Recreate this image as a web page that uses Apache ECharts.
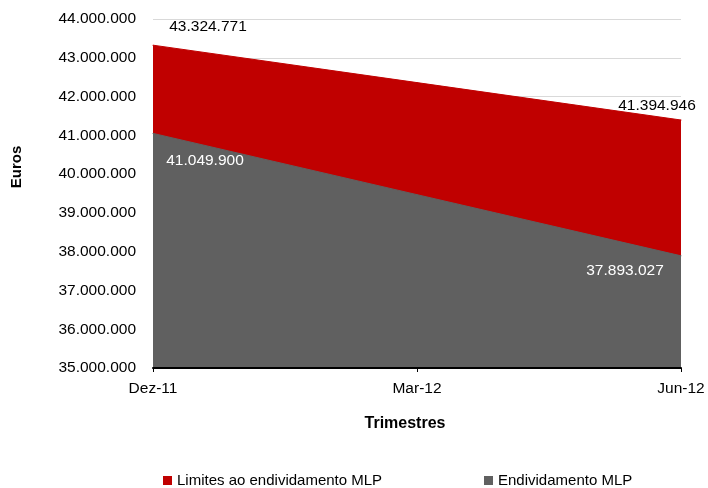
<!DOCTYPE html>
<html>
<head>
<meta charset="utf-8">
<script src="https://cdn.jsdelivr.net/npm/echarts@6/dist/echarts.min.js"></script>
<style>html,body{margin:0;padding:0;background:#fff}#c{width:708px;height:488px}</style>
</head>
<body>
<div id="c"></div>
<script>
var categories = ['Dez-11', 'Mar-12', 'Jun-12'];
var limitesValues = [43324771, 42360000, 41394946];
var endividamentoValues = [41049900, 39470000, 37893027];
var seriesNames = ['Limites ao endividamento MLP', 'Endividamento MLP'];
var yAxisTitle = 'Euros';
var xAxisTitle = 'Trimestres';

function fmt(v) {
  return String(Math.round(v)).replace(/\B(?=(\d{3})+(?!\d))/g, '.');
}

var font = 'Liberation Sans, Arial, sans-serif';
var limLabels = [
  {show: true, position: 'top', offset: [55, -5], color: '#000'},
  {show: false},
  {show: true, position: 'top', offset: [-24, -1], color: '#000'}
];
var endLabels = [
  {show: true, position: 'bottom', offset: [52, 14], color: '#fff'},
  {show: false},
  {show: true, position: 'bottom', offset: [-56, 1], color: '#fff'}
];

var legendText = {fontSize: 15, color: '#000', fontFamily: font};

var chart = echarts.init(document.getElementById('c'), null, {renderer: 'canvas'});
chart.setOption({
  animation: false,
  textStyle: {fontFamily: font},
  grid: {left: 153, right: 27, top: 19, bottom: 120},
  legend: [
    {top: 473, left: 163, padding: 0, itemWidth: 9, itemHeight: 9, icon: 'rect', textStyle: legendText, data: [seriesNames[0]]},
    {top: 473, left: 484, padding: 0, itemWidth: 9, itemHeight: 9, icon: 'rect', textStyle: legendText, data: [seriesNames[1]]}
  ],
  graphic: [
    {type: 'text', x: 17, y: 167, rotation: Math.PI / 2,
      style: {text: yAxisTitle, font: 'bold 15px ' + font, fill: '#000', align: 'center', verticalAlign: 'middle'}},
    {type: 'text', x: 405, y: 424,
      style: {text: xAxisTitle, font: 'bold 16px ' + font, fill: '#000', align: 'center', verticalAlign: 'middle'}}
  ],
  xAxis: {
    type: 'category', boundaryGap: false, data: categories,
    axisLine: {lineStyle: {color: '#000', width: 2}},
    axisTick: {show: true, length: 4, lineStyle: {color: '#000'}},
    axisLabel: {fontSize: 15.5, color: '#000', margin: 13, fontFamily: font},
    z: 10
  },
  yAxis: {
    type: 'value', min: 35000000, max: 44000000, interval: 1000000,
    axisLine: {show: false}, axisTick: {show: false},
    axisLabel: {fontSize: 15.5, color: '#000', margin: 17, formatter: fmt, fontFamily: font},
    splitLine: {lineStyle: {color: '#d9d9d9', width: 1}}
  },
  series: [
    {
      name: seriesNames[0], type: 'line', symbol: 'circle', symbolSize: 1,
      itemStyle: {color: '#c00000'},
      lineStyle: {color: '#c00000', width: 1},
      areaStyle: {color: '#c00000', opacity: 1, origin: 'start'},
      label: {fontSize: 15.5, fontFamily: font, formatter: function (p) { return fmt(p.value); }},
      data: limitesValues.map(function (v, i) { return {value: v, label: limLabels[i]}; }),
      z: 2
    },
    {
      name: seriesNames[1], type: 'line', symbol: 'circle', symbolSize: 1,
      itemStyle: {color: '#606060'},
      lineStyle: {color: '#606060', width: 1},
      areaStyle: {color: '#606060', opacity: 1, origin: 'start'},
      label: {fontSize: 15.5, fontFamily: font, formatter: function (p) { return fmt(p.value); }},
      data: endividamentoValues.map(function (v, i) { return {value: v, label: endLabels[i]}; }),
      z: 3
    }
  ]
});
</script>
</body>
</html>
